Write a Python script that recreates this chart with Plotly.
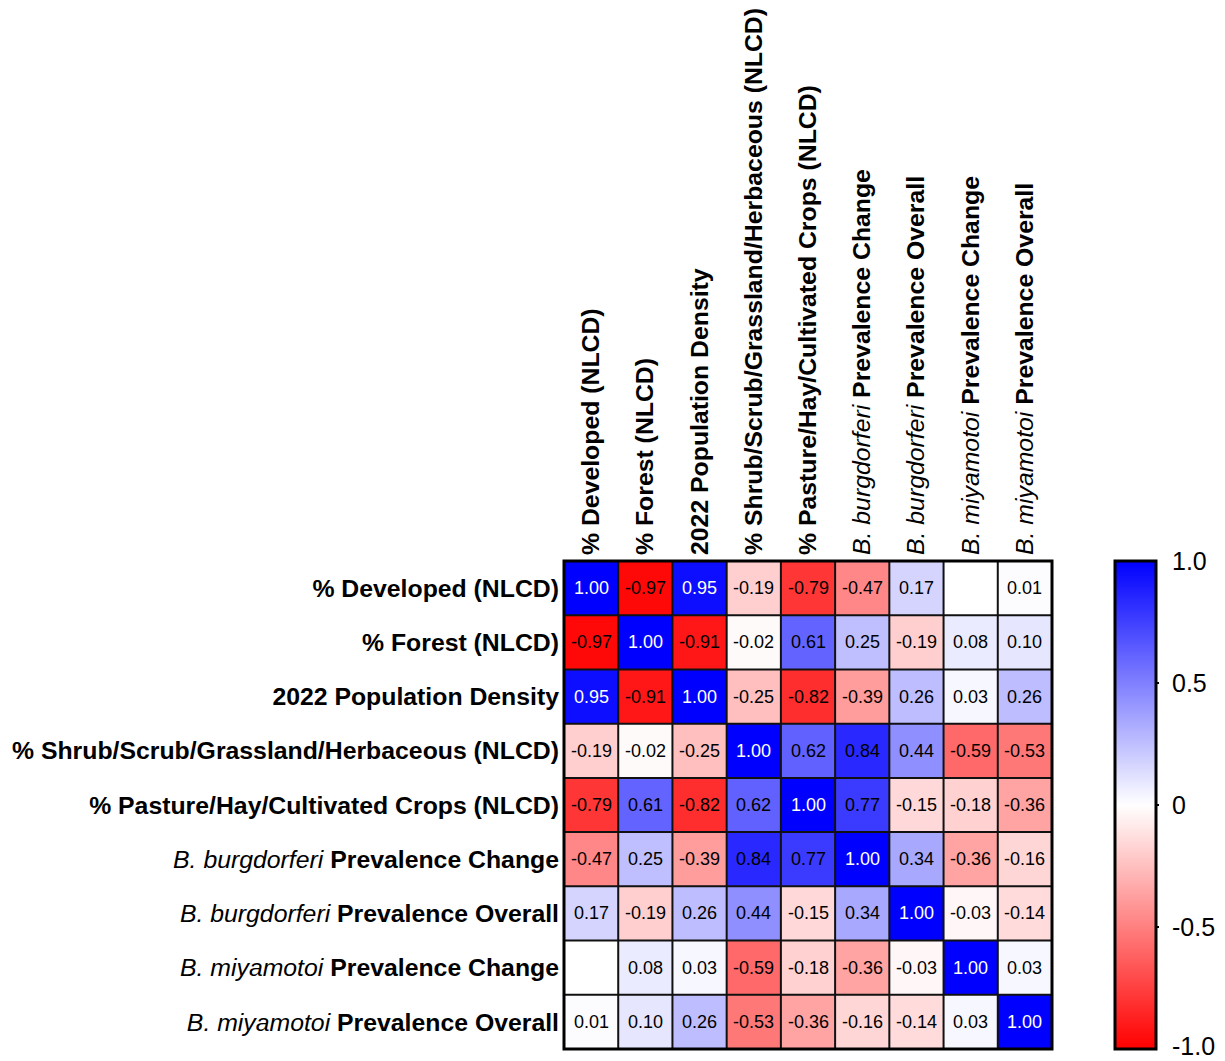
import plotly.graph_objects as go

# Variable names (rows and columns share the same order)
labels = [
    "<b>% Developed (NLCD)</b>",
    "<b>% Forest (NLCD)</b>",
    "<b>2022 Population Density</b>",
    "<b>% Shrub/Scrub/Grassland/Herbaceous (NLCD)</b>",
    "<b>% Pasture/Hay/Cultivated Crops (NLCD)</b>",
    "<i>B. burgdorferi</i> <b>Prevalence Change</b>",
    "<i>B. burgdorferi</i> <b>Prevalence Overall</b>",
    "<i>B. miyamotoi</i> <b>Prevalence Change</b>",
    "<i>B. miyamotoi</i> <b>Prevalence Overall</b>",
]

# Pearson correlation matrix (None = not reported)
corr_developed = [1.00, -0.97, 0.95, -0.19, -0.79, -0.47, 0.17, None, 0.01]
corr_forest = [-0.97, 1.00, -0.91, -0.02, 0.61, 0.25, -0.19, 0.08, 0.10]
corr_popdens = [0.95, -0.91, 1.00, -0.25, -0.82, -0.39, 0.26, 0.03, 0.26]
corr_shrub = [-0.19, -0.02, -0.25, 1.00, 0.62, 0.84, 0.44, -0.59, -0.53]
corr_pasture = [-0.79, 0.61, -0.82, 0.62, 1.00, 0.77, -0.15, -0.18, -0.36]
corr_bb_change = [-0.47, 0.25, -0.39, 0.84, 0.77, 1.00, 0.34, -0.36, -0.16]
corr_bb_overall = [0.17, -0.19, 0.26, 0.44, -0.15, 0.34, 1.00, -0.03, -0.14]
corr_bm_change = [None, 0.08, 0.03, -0.59, -0.18, -0.36, -0.03, 1.00, 0.03]
corr_bm_overall = [0.01, 0.10, 0.26, -0.53, -0.36, -0.16, -0.14, 0.03, 1.00]

matrix = [corr_developed, corr_forest, corr_popdens, corr_shrub, corr_pasture,
          corr_bb_change, corr_bb_overall, corr_bm_change, corr_bm_overall]

cbar_ticks = [-1.0, -0.5, 0.0, 0.5, 1.0]
cbar_ticktext = ["-1.0", "-0.5", "0", "0.5", "1.0"]

FONT = "Arial, Liberation Sans, sans-serif"

W, H = 1225, 1061
ML, MR, MT, MB = 564, 173, 561, 12
plot_w = W - ML - MR
plot_h = H - MT - MB
cb_x = (1115 - ML) / plot_w
cb_thick = 41
n = len(labels)
ZMIN, ZMAX = -1.0, 1.0

fig = go.Figure()
fig.add_trace(go.Heatmap(
    z=matrix, x=labels, y=labels,
    zmin=ZMIN, zmax=ZMAX,
    colorscale=[[0, "#ff0000"], [0.5, "#ffffff"], [1, "#0000ff"]],
    hoverongaps=False,
    colorbar=dict(
        x=cb_x, xanchor="left", y=0.5, yanchor="middle", len=1, lenmode="fraction",
        thickness=cb_thick, xpad=0, ypad=0,
        outlinewidth=3, outlinecolor="black",
        ticks="", showticklabels=False,
    ),
))

# cell value labels
annotations = []
for i, row in enumerate(matrix):
    for j, v in enumerate(row):
        if v is None:
            continue
        annotations.append(dict(
            x=labels[j], y=labels[i], xref="x", yref="y",
            text=f"{v:.2f}", showarrow=False,
            font=dict(family=FONT, size=18, color="white" if v >= 0.9 else "black"),
        ))

# colour bar tick labels
cb_label_x = (1170 - ML) / plot_w
for t, s in zip(cbar_ticks, cbar_ticktext):
    annotations.append(dict(
        x=cb_label_x, y=(t - ZMIN) / (ZMAX - ZMIN), xref="paper", yref="paper",
        xanchor="left", yanchor="middle", text=s, showarrow=False,
        yshift=3 if t == ZMIN else 0,
        font=dict(family=FONT, size=25, color="black"),
    ))

shapes = []
# cell grid
for k in range(1, n):
    shapes.append(dict(type="line", xref="x", yref="paper", x0=k - 0.5, x1=k - 0.5,
                       y0=0, y1=1, line=dict(color="#111111", width=2)))
    shapes.append(dict(type="line", xref="paper", yref="y", x0=0, x1=1,
                       y0=k - 0.5, y1=k - 0.5, line=dict(color="#111111", width=2)))
# heavy frame
shapes.append(dict(type="rect", xref="paper", yref="paper", x0=0, x1=1, y0=0, y1=1,
                   line=dict(color="black", width=3), fillcolor="rgba(0,0,0,0)"))
# tick marks on both inner edges of the colour bar
tick_len = 8 / plot_w
cb_right = cb_x + (cb_thick + 3) / plot_w
for t in cbar_ticks[1:-1]:
    yy = (t - ZMIN) / (ZMAX - ZMIN)
    shapes.append(dict(type="line", xref="paper", yref="paper",
                       x0=cb_x, x1=cb_x + tick_len, y0=yy, y1=yy,
                       line=dict(color="black", width=2)))
    shapes.append(dict(type="line", xref="paper", yref="paper",
                       x0=cb_right - tick_len, x1=cb_right, y0=yy, y1=yy,
                       line=dict(color="black", width=2)))

fig.update_layout(
    width=W, height=H,
    margin=dict(l=ML, r=MR, t=MT, b=MB),
    paper_bgcolor="white", plot_bgcolor="white",
    font=dict(family=FONT, color="black"),
    annotations=annotations, shapes=shapes,
    xaxis=dict(side="top", tickangle=-90, showgrid=False, zeroline=False,
               automargin=False,
               ticks="", tickfont=dict(family=FONT, size=24.8, color="black"),
               ticklabelstandoff=5),
    yaxis=dict(autorange="reversed", showgrid=False, zeroline=False,
               automargin=False,
               ticks="", tickfont=dict(family=FONT, size=24.8, color="black"),
               ticklabelstandoff=4),
)

fig.write_html("out.html")
